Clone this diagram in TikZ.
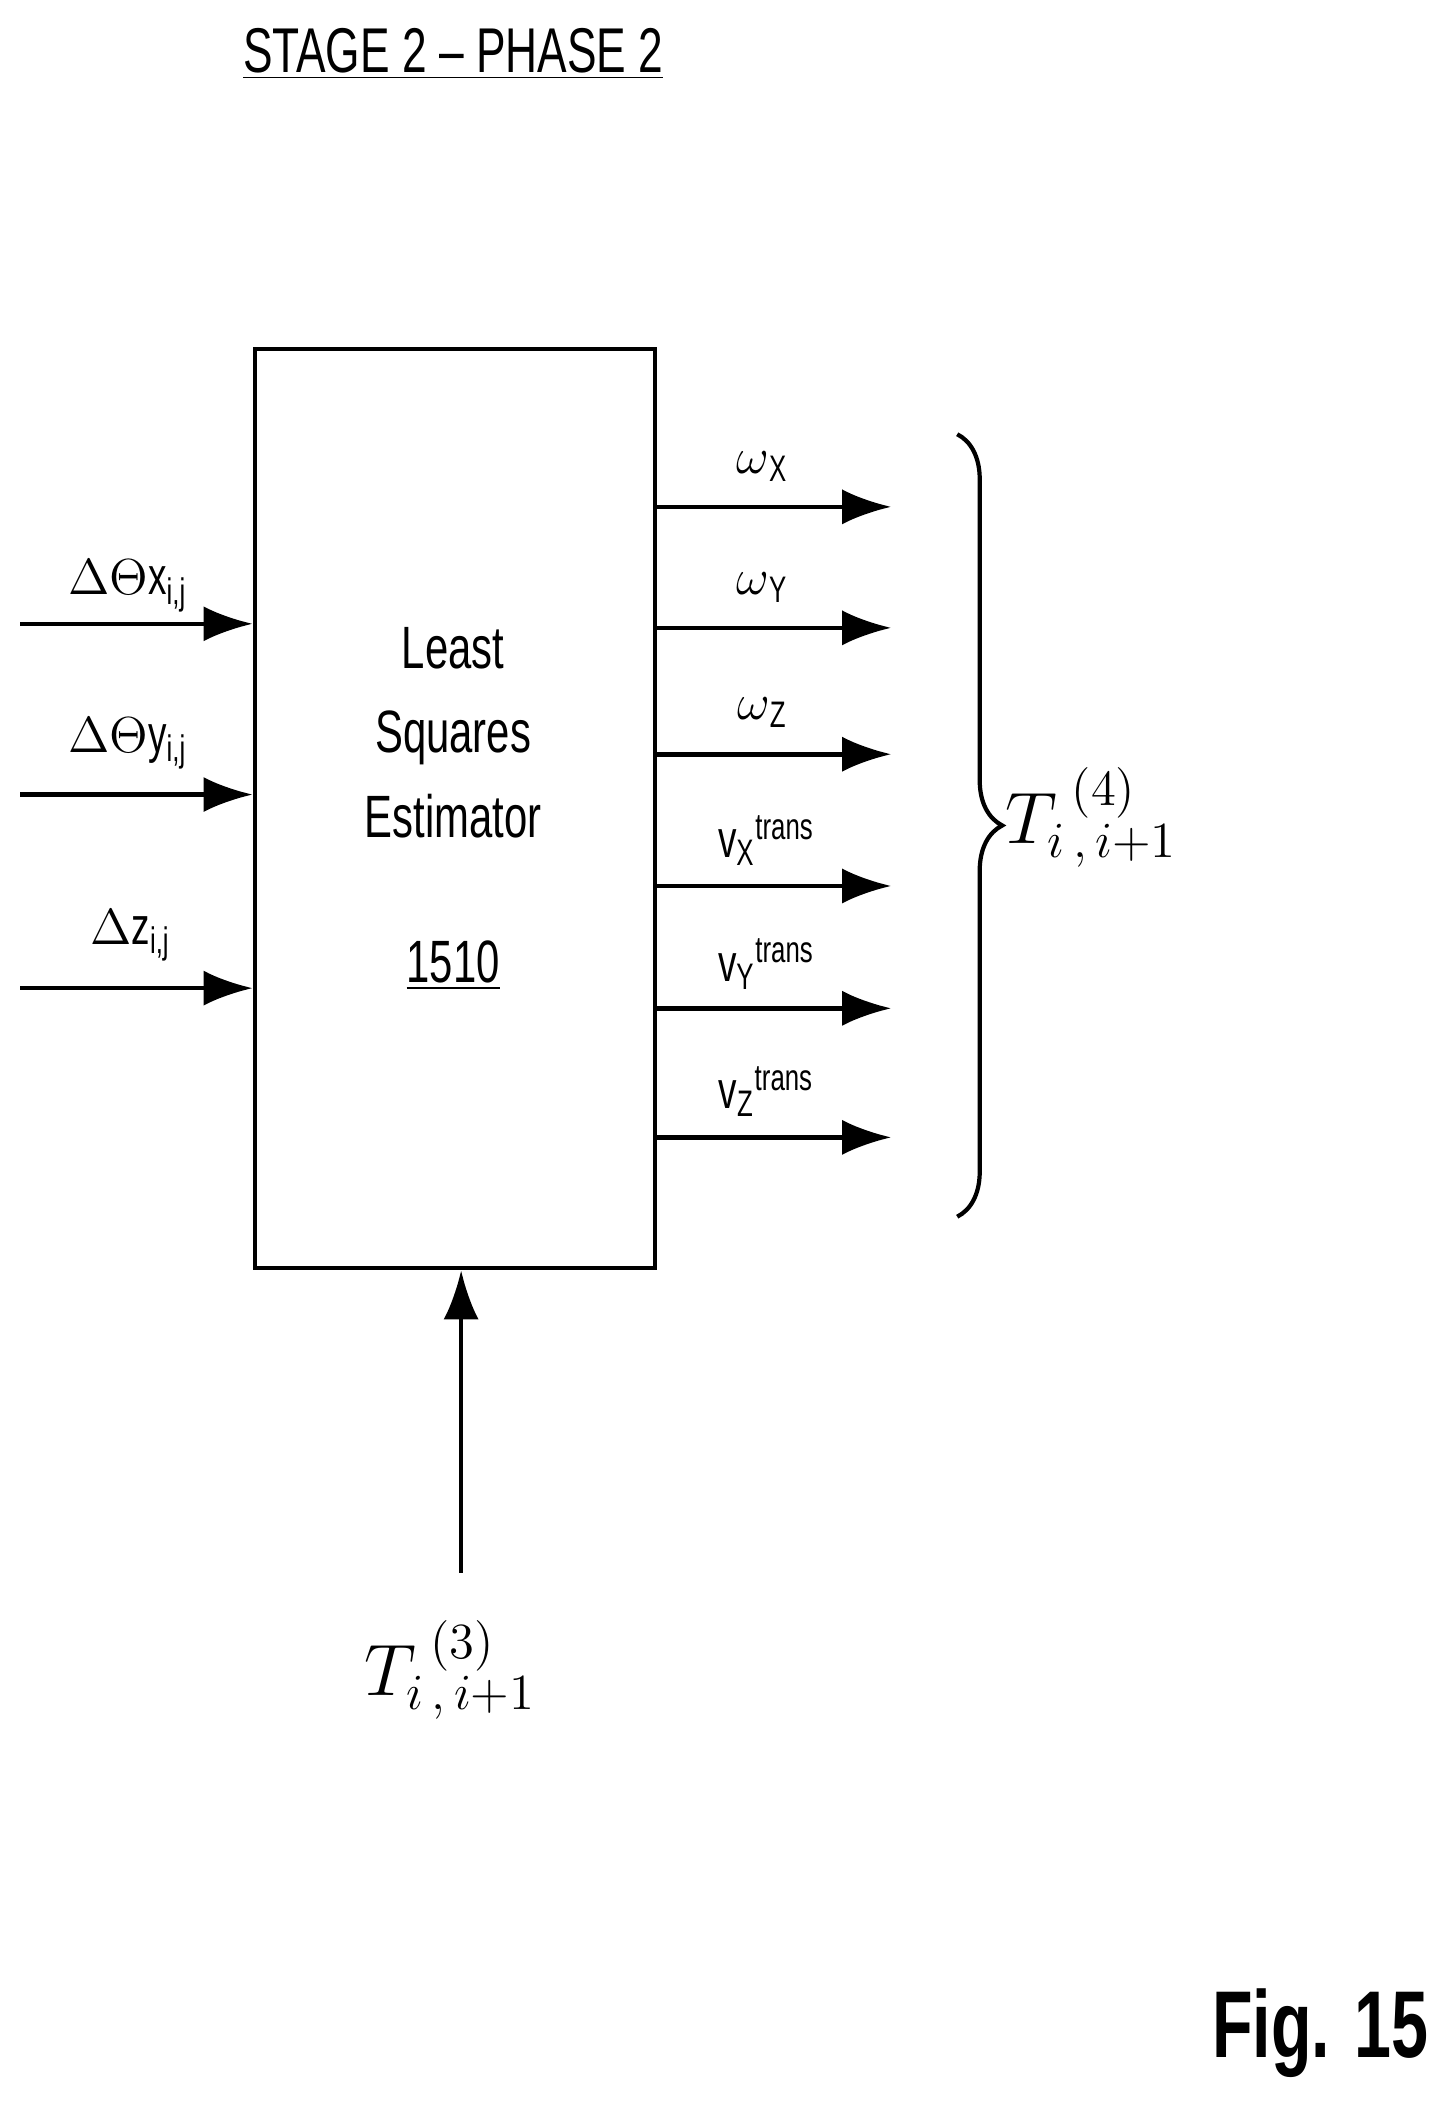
\documentclass[tikz,border=0pt]{standalone}
\usepackage{fontspec}
\setmainfont[FakeStretch=0.7]{Liberation Sans}
\usetikzlibrary{arrows.meta,positioning,decorations.pathreplacing}
\tikzstyle{block} = [draw, rectangle, line width=1.2pt, minimum width=4.0cm, minimum height=9.19cm, inner sep=0pt]
\tikzstyle{lbl} = [font=\fontsize{15}{17}\selectfont, inner sep=1pt]
\tikzstyle{arr} = [draw, line width=1.3pt, -{Latex[length=14pt,width=10pt]}]
\begin{document}
\begin{tikzpicture}[x=0.01344cm, y=-0.01344cm]
    \useasboundingbox (0,0) rectangle (1080,1565);
    \node [font=\fontsize{18}{20}\selectfont] (title) at (337,40) {\underline{STAGE 2 -- PHASE 2}};

    \node [block, anchor=north west] (lse) at (188,258) {};
    \node [align=center, font=\fontsize{17}{24}\selectfont] (txt) at (337,545) {Least\\Squares\\Estimator};
    \node [font=\fontsize{17}{20}\selectfont] (num) at (337,718) {\underline{1510}};

    % inputs
    \coordinate (i1) at (15,464);
    \coordinate (i2) at (15,591);
    \coordinate (i3) at (15,735);
    \draw [arr] (i1) -- (i1 -| lse.west);
    \draw [arr] (i2) -- (i2 -| lse.west);
    \draw [arr] (i3) -- (i3 -| lse.west);
    \node [lbl] (l1) at (95,436) {$\Delta\Theta$x\textsubscript{i,j}};
    \node [lbl] (l2) at (95,553) {$\Delta\Theta$y\textsubscript{i,j}};
    \node [lbl] (l3) at (97,696) {$\Delta$z\textsubscript{i,j}};

    % outputs
    \foreach \n/\y in {1/377,2/467,3/561,4/659,5/750,6/846}
        \coordinate (o\n) at (663,\y);
    \foreach \n in {1,...,6}
        \draw [arr] (o\n -| lse.east) -- (o\n);
    \node [lbl] (w1) at (567,347) {$\omega$\textsubscript{X}};
    \node [lbl] (w2) at (567,437) {$\omega$\textsubscript{Y}};
    \node [lbl] (w3) at (567,530) {$\omega$\textsubscript{Z}};
    \node [lbl] (v1) at (570,625) {v\textsubscript{X}\textsuperscript{trans}};
    \node [lbl] (v2) at (570,717) {v\textsubscript{Y}\textsuperscript{trans}};
    \node [lbl] (v3) at (570,812) {v\textsubscript{Z}\textsuperscript{trans}};

    \coordinate (bt) at (712,323);
    \coordinate (bb) at (712,905);
    \draw [line width=1.2pt, decorate, decoration={brace, amplitude=0.45cm}] (bt) -- (bb);
    \node [font=\fontsize{22}{24}\selectfont] (t4) at (812,608) {$T_{i\,,\,i+1}^{\;(4)}$};

    % bottom input
    \coordinate (tin) at (343,1170);
    \draw [arr] (tin) -- (tin |- lse.south);
    \node [font=\fontsize{22}{24}\selectfont] (t3) at (335,1242) {$T_{i\,,\,i+1}^{\;(3)}$};

    \node [font=\bfseries\fontsize{27}{29}\selectfont, anchor=east] (fig) at (1072,1512) {Fig. 15};
\end{tikzpicture}
\end{document}
